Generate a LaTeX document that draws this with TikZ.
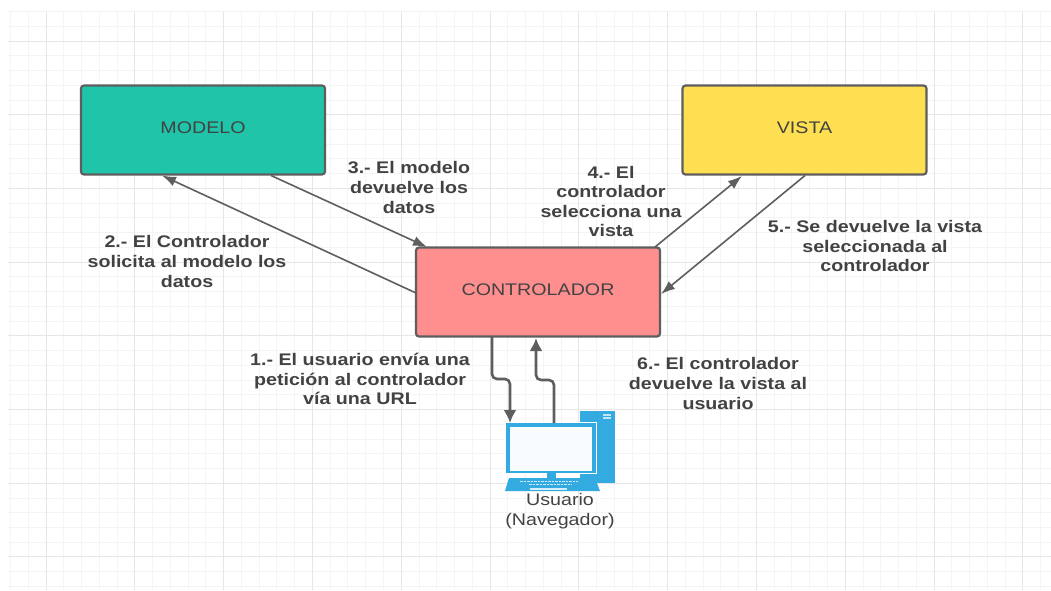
\documentclass[tikz,border=0pt]{standalone}
\usepackage{fontspec}
\setmainfont{Liberation Sans}[FakeStretch=1.17]
\usetikzlibrary{arrows.meta}
\definecolor{gridminor}{HTML}{F4F4F5}
\definecolor{gridmajor}{HTML}{E6E6E7}
\definecolor{edge}{HTML}{5E5E5E}
\definecolor{ink}{HTML}{424242}
\definecolor{teal}{HTML}{1FC4A9}
\definecolor{yel}{HTML}{FFDF52}
\definecolor{pinkbox}{HTML}{FF8F8F}
\definecolor{pcblue}{HTML}{33ABE0}
\tikzset{
  x=1pt,y=-1pt,
  boxnode/.style={draw=edge,line width=2.2pt,rounded corners=3pt,minimum width=244pt,minimum height=89pt,inner sep=0pt,text=ink,font=\fontsize{16.8}{20}\selectfont},
  lab/.style={align=center,font=\fontsize{16.8}{19.6}\selectfont\bfseries,text=ink,inner sep=0pt},
  conn/.style={draw=edge,line width=1.6pt,-{Latex[length=14pt,width=10pt]}},
  vconn/.style={draw=edge,line width=2.6pt,rounded corners=5pt,-{Latex[length=13pt,width=13pt]}},
}
\begin{document}
\begin{tikzpicture}
\useasboundingbox (0,0) rectangle (1051,590);
\fill[white] (0,0) rectangle (1051,590);
\foreach \i in {-2,...,56} {
  \pgfmathsetmacro{\xx}{46+17.76*\i}
  \draw[gridminor,line width=.9pt] (\xx,12) -- (\xx,590);
}
\foreach \i in {-2,...,37} {
  \pgfmathsetmacro{\yy}{41+14.74*\i}
  \draw[gridminor,line width=.9pt] (8,\yy) -- (1051,\yy);
}
\foreach \i in {0,...,11} {
  \pgfmathsetmacro{\xx}{46+88.8*\i}
  \draw[gridmajor,line width=.9pt] (\xx,12) -- (\xx,590);
}
\foreach \i in {0,...,7} {
  \pgfmathsetmacro{\yy}{41+73.7*\i}
  \draw[gridmajor,line width=.9pt] (8,\yy) -- (1051,\yy);
}
\node[boxnode,fill=teal] (modelo) at (203,130) {\raisebox{4pt}{MODELO}};
\node[boxnode,fill=yel] (vista) at (804.5,130) {\raisebox{4pt}{VISTA}};
\node[boxnode,fill=pinkbox] (ctrl) at (538,292) {\raisebox{4pt}{CONTROLADOR}};
% computer
\fill[pcblue] (580,411) rectangle (615,483);
\fill[white!70!pcblue] (603,414) rectangle (611,415.5);
\fill[white!70!pcblue] (603,417) rectangle (611,418.5);
\fill[white] (505,422) rectangle (597,474);
\fill[pcblue] (506,423) rectangle (596,473);
\fill[white!97!pcblue] (510,427) rectangle (592,471);
\fill[white] (547,473) rectangle (580,478);
\fill[pcblue] (547,473) rectangle (556,478);
\fill[pcblue] (509,478) -- (595,478) -- (600,491) -- (505,491) -- cycle;
\foreach \r/\a/\b in {481/520/578, 484.5/529/572} {
  \draw[white!75!pcblue,line width=1pt,dash pattern=on 2.5pt off 1pt] (\a,\r) -- (\b,\r);
}
\fill[white!80!pcblue] (530,488) rectangle (567,490);
\coordinate (pcin) at (510,423);
\coordinate (pcout) at (554,423);
\node[inner sep=0pt,align=center,text=ink,font=\fontsize{16.8}{20}\selectfont] (user) at (560,511) {Usuario\\(Navegador)};
% connectors
\coordinate (m1) at (162,175.5);
\coordinate (c1) at (416,293);
\draw[conn] (c1) -- (m1);
\coordinate (m2) at (271,175.5);
\coordinate (c2) at (427,247);
\draw[conn] (m2) -- (c2);
\coordinate (c3) at (655,247);
\coordinate (v3) at (742,176);
\draw[conn] (c3) -- (v3);
\coordinate (v4) at (805,175.5);
\coordinate (c4) at (661,294);
\draw[conn] (v4) -- (c4);
\coordinate (c5) at (492,337);
\draw[vconn] (c5) -- (492,379) -- (510,379) -- (pcin);
\coordinate (c6) at (536,338);
\draw[vconn] (pcout) -- (554,380) -- (536,380) -- (c6);
% labels
\node[lab] (l1) at (360,379) {1.- El usuario envía una\\petición al controlador\\vía una URL};
\node[lab] (l2) at (187,261.5) {2.- El Controlador\\solicita al modelo los\\datos};
\node[lab] (l3) at (409,187.5) {3.- El modelo\\devuelve los\\datos};
\node[lab] (l4) at (611,201.5) {4.- El\\controlador\\selecciona una\\vista};
\node[lab] (l5) at (875,246) {5.- Se devuelve la vista\\seleccionada al\\controlador};
\node[lab] (l6) at (718,383.5) {6.- El controlador\\devuelve la vista al\\usuario};
\end{tikzpicture}
\end{document}
